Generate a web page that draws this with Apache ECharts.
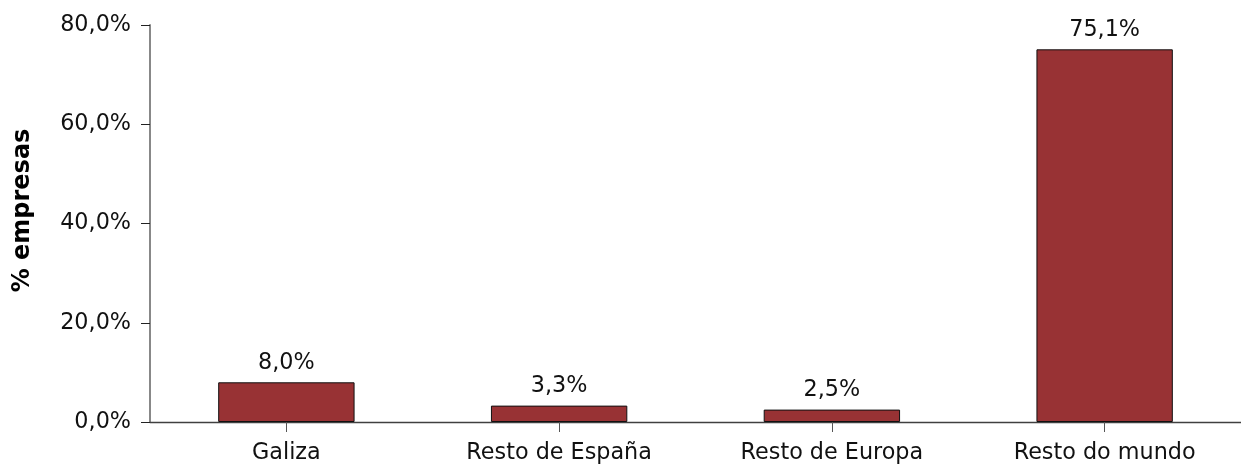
<!DOCTYPE html>
<html><head><meta charset="utf-8">
<script src="https://cdn.jsdelivr.net/npm/echarts@6/dist/echarts.min.js"></script>
<style>html,body{margin:0;padding:0;background:#fff}#c{width:1241px;height:465px}</style>
</head><body><div id="c"></div>
<script>
const categories = ['Galiza', 'Resto de España', 'Resto de Europa', 'Resto do mundo'];
const values = [8.0, 3.3, 2.5, 75.1];
const yTicks = [0, 20, 40, 60, 80];
const yTitle = '% empresas';
const fmt = v => v.toFixed(1).replace('.', ',') + '%';
const FONT = 'DejaVu Sans';
const FS = 22.3;
const chart = echarts.init(document.getElementById('c'), null, {renderer: 'canvas'});
chart.setOption({
  animation: false,
  textStyle: {fontFamily: FONT},
  grid: {left: 150, right: 0, top: 25, bottom: 43, containLabel: false},
  xAxis: {
    type: 'category', data: categories,
    axisLine: {lineStyle: {color: '#404040', width: 1.3}},
    axisTick: {show: true, alignWithLabel: true, length: 10, lineStyle: {color: '#555'}},
    axisLabel: {fontFamily: FONT, fontSize: FS, color: '#111', margin: 20}
  },
  yAxis: {
    type: 'value', min: yTicks[0], max: yTicks[yTicks.length - 1], interval: 20,
    name: yTitle, nameLocation: 'middle', nameGap: 115,
    nameTextStyle: {fontFamily: FONT, fontSize: 24, fontWeight: 'bold', color: '#000', padding: [0, 0, 0, 26]},
    axisLine: {show: true, lineStyle: {color: '#888', width: 2}},
    axisTick: {show: true, length: 9, lineStyle: {color: '#222'}},
    splitLine: {show: false},
    axisLabel: {fontFamily: FONT, fontSize: FS, color: '#111', margin: 19, formatter: v => fmt(v)}
  },
  series: [{
    type: 'bar', data: values, barWidth: '50%',
    itemStyle: {color: '#983234', borderColor: '#111', borderWidth: 1},
    label: {show: true, position: 'top', distance: 8, fontFamily: FONT, fontSize: FS, color: '#111', formatter: p => fmt(p.value)}
  }]
});
</script></body></html>
